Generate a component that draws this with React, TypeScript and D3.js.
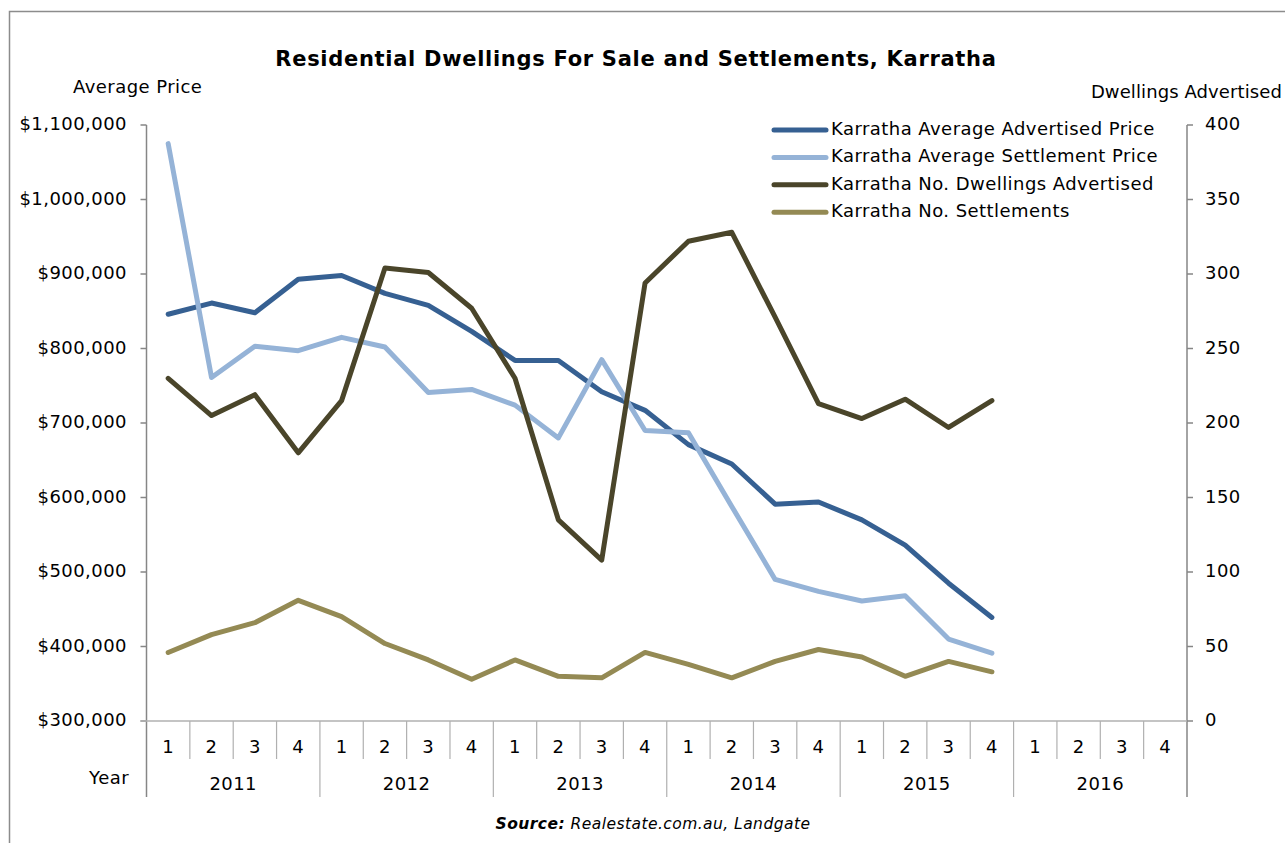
import React, { useRef, useEffect } from "react";
import * as d3 from "d3";

// quarters 2011 Q1 .. 2016 Q4 (data ends 2015 Q4)
const years = ["2011", "2012", "2013", "2014", "2015", "2016"];
const quarters = ["1", "2", "3", "4"];

const advertisedPrice = [
  846000, 861000, 848000, 893000, 898000, 874000, 858000, 823000, 784000, 784000,
  742000, 717000, 671000, 645000, 591000, 594000, 570000, 536000, 485000, 439000,
];
const settlementPrice = [
  1075000, 761000, 803000, 797000, 815000, 802000, 741000, 745000, 724000, 680000,
  785000, 690000, 687000, 588000, 490000, 474000, 461000, 468000, 410000, 391000,
];
const dwellingsAdvertised = [
  230, 205, 219, 180, 215, 304, 301, 277, 230, 135,
  108, 294, 322, 328, 271, 213, 203, 216, 197, 215,
];
const settlements = [
  46, 58, 66, 81, 70, 52, 41, 28, 41, 30,
  29, 46, 38, 29, 40, 48, 43, 30, 40, 33,
];

const leftTicks = [300000, 400000, 500000, 600000, 700000, 800000, 900000, 1000000, 1100000];
const rightTicks = [0, 50, 100, 150, 200, 250, 300, 350, 400];

const seriesNames = [
  "Karratha Average Advertised Price",
  "Karratha Average Settlement Price",
  "Karratha No. Dwellings Advertised",
  "Karratha No. Settlements",
];
const seriesColors = ["#366092", "#95B3D7", "#4A452A", "#948A54"];

const FONT = "'DejaVu Sans', Verdana, sans-serif";
const FS = "18px";
const LS = "0.45px";

function KarrathaChart({ width, height }: { width: number; height: number }) {
  const svgRef = useRef<SVGSVGElement>(null);

  useEffect(() => {
    const svg = d3.select(svgRef.current);
    svg.selectAll("*").remove();

    const left = 146.5;
    const right = 1187;
    const top = 125;
    const bottom = 721;
    const axisColor = "#868686";

    // plain text helper
    const label = (g: any, xx: number, yy: number, txt: string, anchor = "start") =>
      g
        .append("text")
        .attr("x", xx)
        .attr("y", yy)
        .attr("text-anchor", anchor)
        .attr("dominant-baseline", "middle")
        .style("font-family", FONT)
        .style("font-size", FS)
        .style("letter-spacing", LS)
        .text(txt);

    // frame round the whole chart
    svg
      .append("rect")
      .attr("x", 9.5)
      .attr("y", 11.5)
      .attr("width", width + 50)
      .attr("height", height + 50)
      .attr("fill", "white")
      .attr("stroke", "#8c8c8c")
      .attr("stroke-width", 1.5);

    const cats = years.flatMap((y) => quarters.map((q) => `${y}-${q}`));
    const x = d3.scaleBand().domain(cats).range([left, right]);
    const yLeft = d3.scaleLinear().domain([300000, 1100000]).range([bottom, top]);
    const yRight = d3.scaleLinear().domain([0, 400]).range([bottom, top]);

    // title
    svg
      .append("text")
      .attr("x", 636)
      .attr("y", 60)
      .attr("text-anchor", "middle")
      .attr("dominant-baseline", "middle")
      .style("font-family", FONT)
      .style("font-weight", "bold")
      .style("font-size", "21px")
      .style("letter-spacing", "0.7px")
      .text("Residential Dwellings For Sale and Settlements, Karratha");

    label(svg, 73, 88, "Average Price");
    label(svg, 1282, 93, "Dwellings Advertised", "end").style("letter-spacing", "0.1px");

    // left axis
    const fmt = d3.format(",");
    const la = svg.append("g");
    la.append("line")
      .attr("x1", left).attr("x2", left)
      .attr("y1", top).attr("y2", bottom + 76)
      .attr("stroke", axisColor).attr("stroke-width", 1.5);
    leftTicks.forEach((t) => {
      la.append("line")
        .attr("x1", left - 6).attr("x2", left)
        .attr("y1", yLeft(t)).attr("y2", yLeft(t))
        .attr("stroke", axisColor).attr("stroke-width", 1.5);
      label(la, 127, yLeft(t), "$" + fmt(t), "end");
    });

    // right axis
    const ra = svg.append("g");
    ra.append("line")
      .attr("x1", right).attr("x2", right)
      .attr("y1", top).attr("y2", bottom + 76)
      .attr("stroke", axisColor).attr("stroke-width", 1.5);
    rightTicks.forEach((t) => {
      ra.append("line")
        .attr("x1", right).attr("x2", right + 6)
        .attr("y1", yRight(t)).attr("y2", yRight(t))
        .attr("stroke", axisColor).attr("stroke-width", 1.5);
      label(ra, 1205, yRight(t), String(t));
    });

    // category axis
    const ca = svg.append("g");
    ca.append("line")
      .attr("x1", left - 6).attr("x2", right)
      .attr("y1", bottom).attr("y2", bottom)
      .attr("stroke", "#b0b0b0").attr("stroke-width", 1.5);
    cats.forEach((c, i) => {
      const x0 = x(c)!;
      if (i > 0) {
        ca.append("line")
          .attr("x1", x0).attr("x2", x0)
          .attr("y1", bottom).attr("y2", i % 4 === 0 ? bottom + 76 : bottom + 38)
          .attr("stroke", "#b0b0b0").attr("stroke-width", 1.2);
      }
      label(ca, x0 + x.bandwidth() / 2, 748, c.split("-")[1], "middle");
    });
    years.forEach((yr) => {
      const x0 = x(`${yr}-1`)!;
      label(ca, x0 + x.bandwidth() * 2, 785, yr, "middle");
    });
    label(ca, 129, 779, "Year", "end");

    // lines
    const series = [
      { values: advertisedPrice, scale: yLeft },
      { values: settlementPrice, scale: yLeft },
      { values: dwellingsAdvertised, scale: yRight },
      { values: settlements, scale: yRight },
    ];
    series.forEach((s, si) => {
      const line = d3
        .line<number>()
        .x((_, i) => x(cats[i])! + x.bandwidth() / 2)
        .y((d) => s.scale(d));
      svg
        .append("path")
        .datum(s.values)
        .attr("fill", "none")
        .attr("stroke", seriesColors[si])
        .attr("stroke-width", 5)
        .attr("stroke-linejoin", "round")
        .attr("stroke-linecap", "round")
        .attr("d", line);
    });

    // legend
    const lg = svg.append("g");
    seriesNames.forEach((name, i) => {
      const ly = 130 + i * 27.4;
      lg.append("line")
        .attr("x1", 774).attr("x2", 826)
        .attr("y1", ly).attr("y2", ly)
        .attr("stroke", seriesColors[i])
        .attr("stroke-width", 5)
        .attr("stroke-linecap", "round");
      label(lg, 831, ly, name);
    });

    // source note
    const src = svg
      .append("text")
      .attr("x", 653)
      .attr("y", 824)
      .attr("text-anchor", "middle")
      .attr("dominant-baseline", "middle")
      .style("font-family", FONT)
      .style("font-size", "15.5px")
      .style("letter-spacing", "0.45px")
      .style("font-style", "italic");
    src.append("tspan").style("font-weight", "bold").text("Source:");
    src.append("tspan").text(" Realestate.com.au, Landgate");
  }, [width, height]);

  return (
    <svg
      ref={svgRef}
      width={width}
      height={height}
      style={{ position: "absolute", left: 0, top: 0, background: "white" }}
    ></svg>
  );
}

export default function App() {
  return <KarrathaChart width={1285} height={843} />;
}
